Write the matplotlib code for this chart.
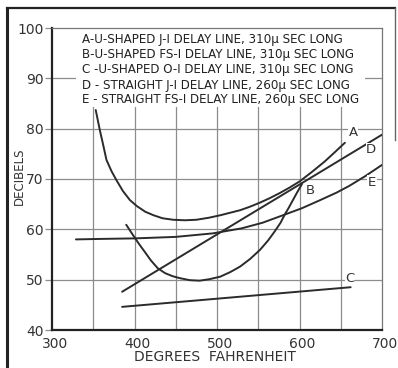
"""Attenuation of delay lines vs temperature (recreated from a scanned chart)."""

import matplotlib
matplotlib.use("Agg")
import matplotlib.pyplot as plt
import matplotlib.transforms as mtransforms
from matplotlib.patches import Rectangle
from matplotlib.lines import Line2D

# curve data (degrees F, decibels)
a_temp = [353, 358, 362, 366, 372, 378, 386, 394.5, 403, 413, 423, 434, 447,
          461, 475, 490, 504, 516, 528, 540, 552, 564, 576, 588, 600, 615,
          630, 642, 655]
a_db = [83.7, 79.7, 76.8, 73.8, 71.6, 69.8, 67.6, 65.8, 64.6, 63.5, 62.8,
        62.2, 61.9, 61.8, 61.9, 62.3, 62.8, 63.3, 63.8, 64.5, 65.3, 66.2,
        67.2, 68.3, 69.5, 71.4, 73.4, 75.2, 77.2]

b_temp = [390, 398, 405, 413, 420, 428, 437, 446, 455, 467, 479, 491, 504,
          516, 528, 540, 552, 562, 570, 577, 582, 587, 592, 597, 603]
b_db = [60.9, 58.9, 57.2, 55.4, 53.8, 52.3, 51.3, 50.7, 50.3, 49.9, 49.8,
        50.1, 50.6, 51.5, 52.6, 54.1, 55.9, 57.8, 59.6, 61.3, 62.9, 64.3,
        65.8, 67.3, 69.0]

c_temp = [385, 662]
c_db = [44.6, 48.5]

d_temp = [385, 700]
d_db = [47.6, 78.8]

e_temp = [329, 360, 400, 450, 495, 530, 555, 580, 603, 625, 645, 660, 680, 700]
e_db = [58.0, 58.1, 58.2, 58.5, 59.2, 60.2, 61.3, 62.8, 64.2, 65.8, 67.3,
        68.6, 70.6, 72.8]

legend_lines = [
    "A-U-SHAPED J-I DELAY LINE, 310\u03bc SEC LONG",
    "B-U-SHAPED FS-I DELAY LINE, 310\u03bc SEC LONG",
    "C -U-SHAPED O-I DELAY LINE, 310\u03bc SEC LONG",
    "D - STRAIGHT J-I DELAY LINE, 260\u03bc SEC LONG",
    "E - STRAIGHT FS-I DELAY LINE, 260\u03bc SEC LONG",
]

x_ticks = [300, 400, 500, 600, 700]
y_ticks = [40, 50, 60, 70, 80, 90, 100]

INK = "#2b2b2b"
GRID = "#8c8c8c"
NARROW = ["Liberation Sans Narrow", "DejaVu Sans"]


def main():
    fig = plt.figure(figsize=(3.98, 3.68), dpi=100)
    ax = fig.add_axes([52 / 398, 1 - 330 / 368, 330 / 398, 302 / 368])

    ax.set_xlim(300, 700)
    ax.set_ylim(40, 100)

    # grid
    for gx in range(350, 700, 50):
        ax.axvline(gx, color=GRID, lw=0.9, zorder=1)
    for gy in range(50, 100, 10):
        ax.axhline(gy, color=GRID, lw=0.9, zorder=1)

    # blank area behind the key
    ax.add_patch(Rectangle((329, 84.3), 350, 15.5, facecolor="white",
                           edgecolor="none", zorder=1.5))

    for xs, ys in [(a_temp, a_db), (b_temp, b_db), (c_temp, c_db),
                   (d_temp, d_db), (e_temp, e_db)]:
        ax.plot(xs, ys, color=INK, lw=1.4, zorder=3, solid_capstyle="round",
                solid_joinstyle="round")

    # curve letters
    for txt, x, y in [("A", 665, 79.2), ("D", 687, 75.8), ("E", 688, 69.4),
                      ("B", 613, 67.8), ("C", 661, 50.3)]:
        ax.text(x, y, txt, fontsize=9.5, color="#333333", ha="center",
                va="center", zorder=4,
                bbox=dict(facecolor="white", edgecolor="none", pad=0.5))

    # key
    key_y = [40, 54.5, 70, 85, 99.5]
    for line, py in zip(legend_lines, key_y):
        ax.text(82 / 398, 1 - py / 368, line, transform=fig.transFigure,
                family=NARROW, fontsize=8.6, color="#222222",
                ha="left", va="center", zorder=5)

    for side in ["left", "bottom"]:
        ax.spines[side].set_color("#222222")
        ax.spines[side].set_linewidth(1.6)
    for side in ["top", "right"]:
        ax.spines[side].set_color("#777777")
        ax.spines[side].set_linewidth(0.9)

    ax.set_xticks(x_ticks)
    ax.set_yticks(y_ticks)
    ax.tick_params(axis="x", length=0, pad=5, labelsize=10, labelcolor="#333333")
    ax.tick_params(axis="y", length=5, width=0.9, color=GRID, pad=1,
                   labelsize=10, labelcolor="#333333")
    offset = mtransforms.ScaledTranslation(3 / 100, 0, fig.dpi_scale_trans)
    for lbl in ax.get_xticklabels():
        lbl.set_transform(lbl.get_transform() + offset)

    fig.text(215 / 398, 1 - 357 / 368, "DEGREES  FAHRENHEIT", fontsize=10,
             color="#333333", ha="center", va="center")
    fig.text(19 / 398, 1 - 176 / 368, "DECIBELS", fontsize=8.5, rotation=90,
             color="#333333", ha="center", va="center")

    # outer frame of the scanned figure
    fig.add_artist(Line2D([7 / 398, 7 / 398], [0, 1 - 8 / 368],
                          transform=fig.transFigure, color="#222222", lw=2.2))
    fig.add_artist(Line2D([7 / 398, 395 / 398], [1 - 8 / 368, 1 - 8 / 368],
                          transform=fig.transFigure, color="#222222", lw=1.6))
    fig.add_artist(Line2D([395 / 398, 395 / 398], [1 - 8 / 368, 1 - 140 / 368],
                          transform=fig.transFigure, color="#666666", lw=1.0))

    fig.savefig("out.png", dpi=100)


if __name__ == "__main__":
    main()
